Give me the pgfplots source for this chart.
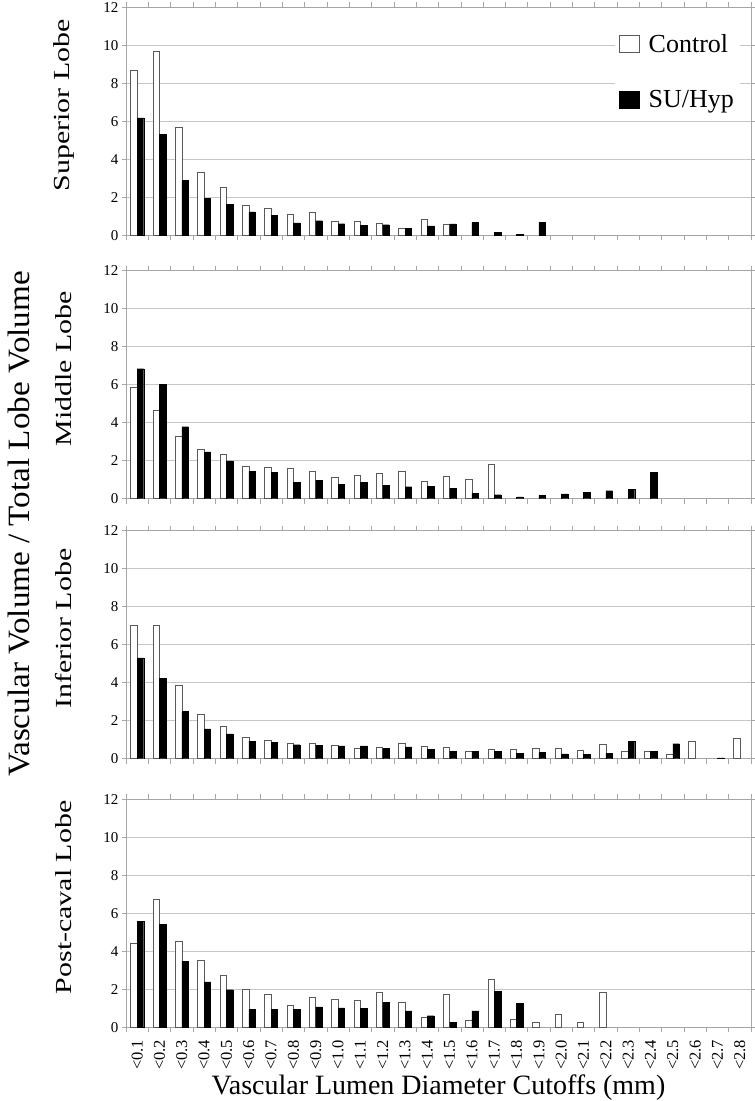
\documentclass[border=0pt]{standalone}
\usepackage{graphicx}
\usepackage{fontspec}
\setmainfont{Liberation Serif}
\usepackage{pgfplots}
\usepackage{pgfplotstable}
\pgfplotsset{compat=1.18}

\pgfplotstableread{
x ctrl su
0 8.67 6.18
1 9.67 5.33
2 5.68 2.91
3 3.32 1.96
4 2.51 1.63
5 1.58 1.23
6 1.40 1.05
7 1.09 0.65
8 1.23 0.77
9 0.72 0.61
10 0.75 0.53
11 0.61 0.56
12 0.35 0.37
13 0.82 0.49
14 0.58 0.60
15 0 0.67
16 0 0.14
17 0 0.05
18 0 0.68
19 0 0
20 0 0
21 0 0
22 0 0
23 0 0
24 0 0
25 0 0
26 0 0
27 0 0
}\superior

\pgfplotstableread{
x ctrl su
0 5.87 6.84
1 4.66 6.01
2 3.28 3.79
3 2.59 2.47
4 2.36 1.99
5 1.73 1.45
6 1.68 1.40
7 1.60 0.86
8 1.43 0.96
9 1.13 0.74
10 1.22 0.86
11 1.35 0.72
12 1.43 0.63
13 0.92 0.65
14 1.20 0.53
15 1.04 0.28
16 1.83 0.21
17 0 0.10
18 0 0.18
19 0 0.25
20 0 0.34
21 0 0.42
22 0 0.48
23 0 1.39
24 0 0
25 0 0
26 0 0
27 0 0
}\middle

\pgfplotstableread{
x ctrl su
0 7.01 5.31
1 7.00 4.24
2 3.85 2.48
3 2.32 1.57
4 1.69 1.31
5 1.15 0.92
6 0.95 0.86
7 0.79 0.74
8 0.79 0.71
9 0.69 0.67
10 0.53 0.67
11 0.58 0.53
12 0.83 0.62
13 0.64 0.50
14 0.62 0.40
15 0.41 0.40
16 0.52 0.38
17 0.52 0.30
18 0.57 0.32
19 0.53 0.26
20 0.45 0.24
21 0.75 0.30
22 0.37 0.92
23 0.39 0.39
24 0.23 0.79
25 0.94 0
26 0 0.04
27 1.06 0
}\inferior

\pgfplotstableread{
x ctrl su
0 4.40 5.58
1 6.74 5.42
2 4.53 3.49
3 3.55 2.39
4 2.76 1.98
5 1.98 0.95
6 1.74 0.95
7 1.18 0.95
8 1.56 1.08
9 1.50 1.02
10 1.40 1.00
11 1.82 1.30
12 1.33 0.86
13 0.54 0.61
14 1.72 0.26
15 0.37 0.86
16 2.53 1.91
17 0.44 1.25
18 0.28 0
19 0.70 0
20 0.25 0
21 1.86 0
22 0 0
23 0 0
24 0 0
25 0 0
26 0 0
27 0 0
}\postcaval

\pgfplotsset{
  lobe/.style={
    scale only axis, width=625pt, height=228pt,
    anchor=north west,
    xmin=-0.5, xmax=27.5, ymin=0, ymax=12,
    ytick={0,2,...,12},
    xtick={0,...,27},
    xticklabels={},
    minor xtick={-0.5,0.5,...,27.5},
    major x tick style={draw=none},
    minor tick length=5pt,
    major tick length=4pt,
    tick align=outside,
    tick style={draw=gray!70, line width=0.6pt},
    ymajorgrids,
    grid style={draw=gray!45, line width=0.6pt},
    axis line style={draw=gray!70, line width=0.6pt},
    /pgf/number format/assume math mode=true,
    yticklabel style={font=\fontsize{15}{17}\selectfont},
    ylabel style={at={(axis description cs:-0.0994,0.57)},
      rotate=0, anchor=center, font=\fontsize{23}{26}\selectfont},
    ybar=0pt, bar width=6.5pt,
    y filter/.expression={y==0 ? nan : y},
  },
  ctrlbar/.style={draw=black!65, fill=white, line width=0.5pt},
  subar/.style={draw=black, fill=black, line width=0.3pt},
}
\newcommand{\lab}[1]{\scalebox{1.3}[1]{#1}}

\begin{document}
\begin{tikzpicture}
\path[use as bounding box] (0pt,0pt) rectangle (755pt,-1101pt);

\begin{axis}[lobe, at={(126pt,-7.3pt)}, ylabel={\lab{Superior Lobe}},
  legend cell align=left,
  legend style={draw=none, fill=white, at={(rel axis cs:0.7824,0.91)},
    anchor=north west, font=\fontsize{26}{30}\selectfont,
    row sep=33pt, column sep=7pt, inner sep=4pt},
  legend image code/.code={\draw[#1] (4pt,-8pt) rectangle (24pt,9pt);},
]
\addplot[ctrlbar] table[x=x,y=ctrl]{\superior};
\addplot[subar] table[x=x,y=su]{\superior};
\legend{Control,SU/Hyp}
\end{axis}

\begin{axis}[lobe, at={(126pt,-270.7pt)}, ylabel={\lab{Middle Lobe}}]
\addplot[ctrlbar] table[x=x,y=ctrl]{\middle};
\addplot[subar] table[x=x,y=su]{\middle};
\end{axis}

\begin{axis}[lobe, at={(126pt,-530.7pt)}, ylabel={\lab{Inferior Lobe}}]
\addplot[ctrlbar] table[x=x,y=ctrl]{\inferior};
\addplot[subar] table[x=x,y=su]{\inferior};
\end{axis}

\begin{axis}[lobe, at={(126pt,-799.3pt)}, ylabel={\lab{Post-caval Lobe}},
  xticklabels={<0.1,<0.2,<0.3,<0.4,<0.5,<0.6,<0.7,<0.8,<0.9,<1.0,<1.1,<1.2,<1.3,<1.4,
    <1.5,<1.6,<1.7,<1.8,<1.9,<2.0,<2.1,<2.2,<2.3,<2.4,<2.5,<2.6,<2.7,<2.8},
  xticklabel style={rotate=90, anchor=east, xshift=-5pt,
    font=\fontsize{16.5}{18}\selectfont},
  xlabel={Vascular Lumen Diameter Cutoffs (mm)},
  xlabel style={at={(axis description cs:0.5,0)}, anchor=base, yshift=-67pt,
    font=\fontsize{28}{30}\selectfont},
]
\addplot[ctrlbar] table[x=x,y=ctrl]{\postcaval};
\addplot[subar] table[x=x,y=su]{\postcaval};
\end{axis}

\node[rotate=90, font=\fontsize{31}{34}\selectfont] at (19pt,-524pt)
  {\scalebox{1.07}[1]{Vascular Volume / Total Lobe Volume}};
\end{tikzpicture}
\end{document}
